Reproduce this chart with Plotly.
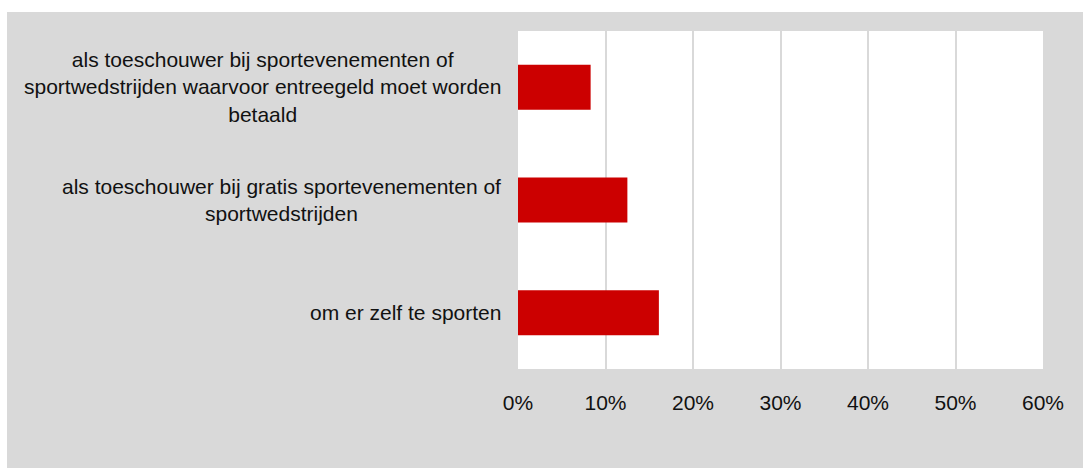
import plotly.graph_objects as go

categories = [
    "als toeschouwer bij sportevenementen of<br>sportwedstrijden waarvoor entreegeld moet worden<br>betaald",
    "als toeschouwer bij gratis sportevenementen of<br>sportwedstrijden",
    "om er zelf te sporten",
]
values = [0.083, 0.125, 0.161]
tick_vals = [0, 0.1, 0.2, 0.3, 0.4, 0.5, 0.6]
tick_text = ["0%", "10%", "20%", "30%", "40%", "50%", "60%"]

FONT = "Liberation Sans, Arial, sans-serif"
GRAY = "#d9d9d9"

fig = go.Figure()
fig.add_trace(go.Bar(
    y=categories, x=values, orientation="h",
    marker=dict(color="#cc0000", line=dict(width=0)),
    width=0.4, hoverinfo="x+y",
))

for c in categories:
    fig.add_annotation(
        x=0, xref="paper", y=c, yref="y", text=c, showarrow=False,
        xanchor="right", yanchor="middle", align="center", xshift=-15,
        font=dict(family=FONT, size=21, color="#111111"),
    )

W, H = 1083, 468
L, R, T, B = 518, 40, 31, 99
pw, ph = W - L - R, H - T - B

def px_x(p):
    return (p - L) / pw

def px_y(p):
    return 1 - (p - T) / ph

# white strips at top and left (outside the grey chart area)
fig.add_shape(type="rect", xref="paper", yref="paper", x0=px_x(-20), x1=px_x(W + 40),
              y0=px_y(12), y1=px_y(-20), fillcolor="white", line=dict(width=0), layer="above")
fig.add_shape(type="rect", xref="paper", yref="paper", x0=px_x(-20), x1=px_x(7),
              y0=px_y(H + 20), y1=px_y(-20), fillcolor="white", line=dict(width=0), layer="above")

fig.update_layout(
    width=W, height=H,
    margin=dict(l=L, r=R, t=T, b=B, pad=0),
    paper_bgcolor=GRAY, plot_bgcolor="white",
    showlegend=False,
    bargap=0.6,
    font=dict(family=FONT, size=21, color="#111111"),
    xaxis=dict(
        range=[0, 0.6], tickvals=tick_vals, ticktext=tick_text,
        showgrid=True, gridcolor=GRAY, gridwidth=2,
        zeroline=False, showline=True, linecolor=GRAY, linewidth=2,
        ticks="", ticklabelstandoff=14,
        tickfont=dict(family=FONT, size=21, color="#111111"),
        fixedrange=True,
    ),
    yaxis=dict(
        categoryorder="array", categoryarray=categories[::-1],
        showticklabels=False, showgrid=False, zeroline=False,
        showline=True, linecolor=GRAY, linewidth=2, ticks="",
        fixedrange=True,
    ),
)

fig.write_html(
    "out.html",
    config={"displayModeBar": False},
    post_script="document.body.style.margin='0';document.body.style.overflow='hidden';",
)
